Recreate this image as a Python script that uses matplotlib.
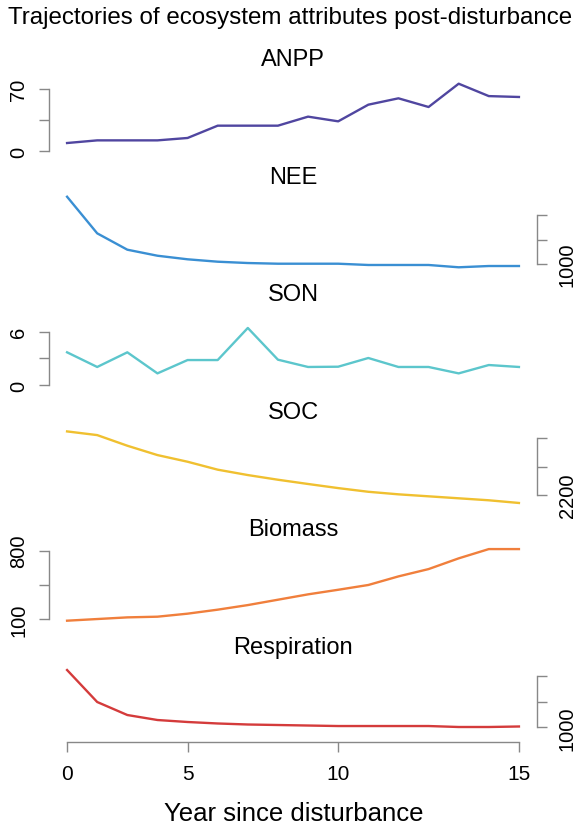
import numpy as np
import matplotlib.pyplot as plt
from matplotlib.transforms import offset_copy

plt.rcParams['font.family'] = ['Liberation Sans', 'DejaVu Sans']

# Точки измерений идут с равным шагом; подписи лет стоят у точек 0, 4, 9 и 15
steps = np.arange(0, 16)
year_tick_steps = [0, 4, 9, 15]
year_tick_labels = ['0', '5', '10', '15']

# Ряды значений
anpp = [9, 12, 12, 12, 14.7, 28.6, 28.6, 28.6, 38.8, 33.5, 52.3, 59.5, 49.7, 76, 62, 61]
nee = [2373, 1626, 1292, 1169, 1096, 1047, 1020, 1006, 1006, 1006, 980, 980, 980, 933, 959, 959]
son = [3.68, 2.03, 3.68, 1.31, 2.81, 2.81, 6.42, 2.85, 2.03, 2.06, 3.04, 2.03, 2.03, 1.31, 2.25, 2.03]
soc = [2649, 2623, 2548, 2482, 2435, 2379, 2341, 2308, 2278, 2249, 2223, 2205, 2191, 2177, 2163, 2144]
biomass = [83, 100, 117, 124, 155, 196, 243, 298, 353, 400, 449, 537, 612, 722, 817, 817]
respiration = [2123, 1496, 1241, 1143, 1104, 1075, 1055, 1045, 1035, 1025, 1025, 1025, 1025, 1006, 1006, 1016]

names = ['ANPP', 'NEE', 'SON', 'SOC', 'Biomass', 'Respiration']
series = [anpp, nee, son, soc, biomass, respiration]
colors = ['#5046a0', '#3a8fd3', '#5cc6cc', '#f0c030', '#f07f3c', '#d43b3b']
ticks = [[0, 35, 70], [1000, 1500, 2000], [0, 3, 6],
         [2200, 2400, 2600], [100, 450, 800], [1000, 1500, 2000]]
ylims = [(-3.4, 96.0), (845, 2641), (-0.47, 9.43),
         (2117, 2738), (45, 947), (712, 2437)]

W, H = 581, 829
fig = plt.figure(figsize=(W / 100, H / 100), dpi=100)
axis_gray = '#888888'

for i, (name, vals, col) in enumerate(zip(names, series, colors)):
    top = 67 + 117.6 * i
    bottom = top + 88
    ax = fig.add_axes([49 / W, 1 - bottom / H, 488 / W, 88 / H])
    ax.plot(steps, vals, color=col, lw=1.7)
    ax.set_xlim(-0.6, 15.6)
    ax.set_ylim(*ylims[i])

    for s in ax.spines.values():
        s.set_visible(False)
    side = 'left' if i % 2 == 0 else 'right'
    sp = ax.spines[side]
    sp.set_visible(True)
    sp.set_color(axis_gray)
    sp.set_linewidth(1)
    sp.set_bounds(ticks[i][0], ticks[i][-1])

    ax.yaxis.set_ticks_position(side)
    ax.set_yticks(ticks[i])
    if side == 'left':
        labels = [str(ticks[i][0]), '', str(ticks[i][-1])]
    else:
        labels = [str(ticks[i][0]), '', '']
    ax.set_yticklabels(labels)
    ax.tick_params(axis='y', direction='out', length=7, width=1, color=axis_gray,
                   labelsize=14.5, pad=8, labelrotation=90)
    for lab in ax.get_yticklabels():
        lab.set_va('center')

    if i == len(names) - 1:
        bs = ax.spines['bottom']
        bs.set_visible(True)
        bs.set_color(axis_gray)
        bs.set_linewidth(1)
        bs.set_bounds(steps[0], steps[-1])
        ax.set_xticks(year_tick_steps)
        ax.set_xticklabels(year_tick_labels)
        ax.tick_params(axis='x', direction='out', length=7, width=1, color=axis_gray,
                       labelsize=15, pad=9)
    else:
        ax.set_xticks([])

    tr = offset_copy(ax.transAxes, fig=fig, x=0, y=7, units='dots')
    ax.text(0.5, 1.0, name, transform=tr, ha='center', va='center', fontsize=17)

fig.text(0.5, 1 - 18 / H, 'Trajectories of ecosystem attributes post-disturbance',
         ha='center', va='center', fontsize=17.4)
fig.text(294 / W, 1 - 814 / H, 'Year since disturbance', ha='center', va='center', fontsize=18.5)

fig.savefig('out.png', dpi=100)
